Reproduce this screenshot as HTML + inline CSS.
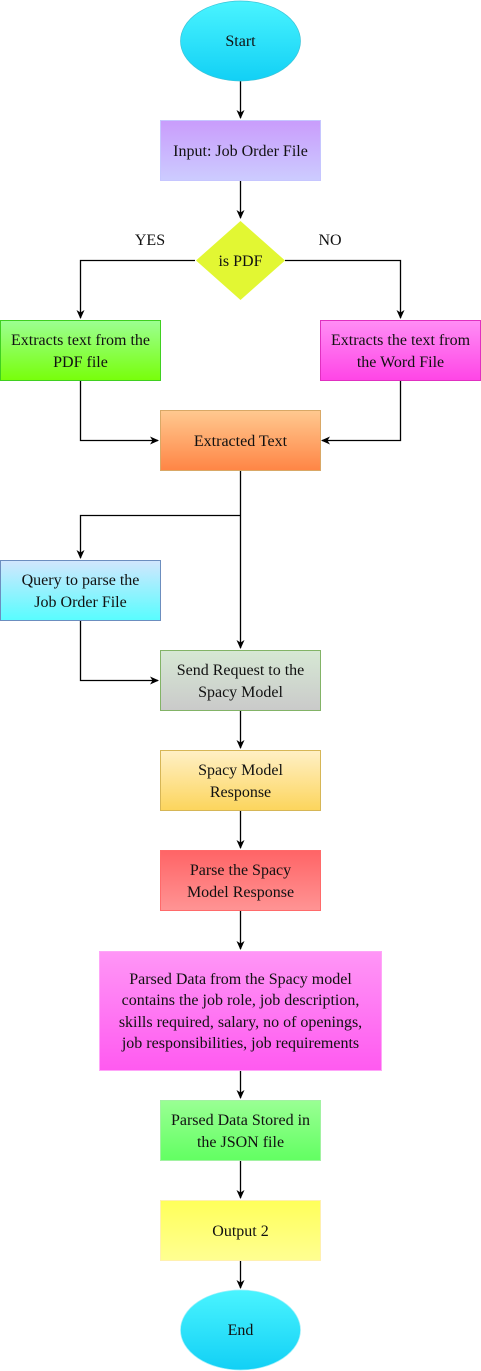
<!DOCTYPE html>
<html><head><meta charset="utf-8"><style>
html,body{margin:0;padding:0;background:#fff;}
svg{display:block;}
svg text{font-family:"Liberation Serif","Times New Roman",serif !important;font-size:16px;fill:#111;text-anchor:middle;}
</style></head><body>
<svg width="481" height="1371" viewBox="0 0 481 1371" xmlns="http://www.w3.org/2000/svg" font-family="Liberation Serif, serif" font-size="16">
<defs>
<linearGradient id="cyan" x1="0" y1="0" x2="0" y2="1"><stop offset="0" stop-color="#4af4ff"/><stop offset="1" stop-color="#12d0f5"/></linearGradient>
<linearGradient id="purp" x1="0" y1="0" x2="0" y2="1"><stop offset="0" stop-color="#c99cfc"/><stop offset="1" stop-color="#ccccff"/></linearGradient>
<linearGradient id="green" x1="0" y1="0" x2="0" y2="1"><stop offset="0" stop-color="#9cff92"/><stop offset="1" stop-color="#78ff0a"/></linearGradient>
<linearGradient id="mag" x1="0" y1="0" x2="0" y2="1"><stop offset="0" stop-color="#ff8ef5"/><stop offset="1" stop-color="#ff45e6"/></linearGradient>
<linearGradient id="orange" x1="0" y1="0" x2="0" y2="1"><stop offset="0" stop-color="#ffc990"/><stop offset="1" stop-color="#ff8545"/></linearGradient>
<linearGradient id="query" x1="0" y1="0" x2="0" y2="1"><stop offset="0" stop-color="#d2e6fd"/><stop offset="1" stop-color="#58fdff"/></linearGradient>
<linearGradient id="grey" x1="0" y1="0" x2="0" y2="1"><stop offset="0" stop-color="#d6e8d4"/><stop offset="1" stop-color="#cacaca"/></linearGradient>
<linearGradient id="yel" x1="0" y1="0" x2="0" y2="1"><stop offset="0" stop-color="#fff0c6"/><stop offset="1" stop-color="#fcd55c"/></linearGradient>
<linearGradient id="red" x1="0" y1="0" x2="0" y2="1"><stop offset="0" stop-color="#ff6466"/><stop offset="1" stop-color="#ff9494"/></linearGradient>
<linearGradient id="mag2" x1="0" y1="0" x2="0" y2="1"><stop offset="0" stop-color="#ff96f6"/><stop offset="1" stop-color="#ff5af0"/></linearGradient>
<linearGradient id="json" x1="0" y1="0" x2="0" y2="1"><stop offset="0" stop-color="#9aff94"/><stop offset="1" stop-color="#62ff62"/></linearGradient>
<linearGradient id="out" x1="0" y1="0" x2="0" y2="1"><stop offset="0" stop-color="#ffff5a"/><stop offset="1" stop-color="#ffff92"/></linearGradient>
<marker id="ar" markerWidth="10" markerHeight="10" refX="8" refY="5" orient="auto" markerUnits="userSpaceOnUse"><path d="M0,1 L9,5 L0,9 L2.5,5 Z" fill="#000"/></marker>
</defs>

<g stroke="#000" stroke-width="1.3" fill="none">
<path d="M240.5 81 V118" marker-end="url(#ar)"/>
<path d="M240.5 180 V218" marker-end="url(#ar)"/>
<path d="M195 260.5 H80.5 V318" marker-end="url(#ar)"/>
<path d="M285 260.5 H400.5 V318" marker-end="url(#ar)"/>
<path d="M80.5 380 V440.5 H158" marker-end="url(#ar)"/>
<path d="M400.5 380 V440.5 H322" marker-end="url(#ar)"/>
<path d="M240.5 470 V648" marker-end="url(#ar)"/>
<path d="M240.5 515.5 H80.5 V558" marker-end="url(#ar)"/>
<path d="M80.5 620 V680.5 H158" marker-end="url(#ar)"/>
<path d="M240.5 710 V748" marker-end="url(#ar)"/>
<path d="M240.5 810 V848" marker-end="url(#ar)"/>
<path d="M240.5 910 V949" marker-end="url(#ar)"/>
<path d="M240.5 1070 V1098" marker-end="url(#ar)"/>
<path d="M240.5 1160 V1198" marker-end="url(#ar)"/>
<path d="M240.5 1260 V1288" marker-end="url(#ar)"/>
</g>

<ellipse cx="240.5" cy="41" rx="60" ry="40" fill="url(#cyan)" stroke="#3bc4d8" stroke-width="0.7"/>
<text x="240.5" y="46">Start</text>

<rect x="160.5" y="120.5" width="160" height="60" fill="url(#purp)" stroke="#c6c6ff"/>
<text x="240.5" y="156">Input: Job Order File</text>

<polygon points="240.5,221 285,260.5 240.5,300 196,260.5" fill="#e2f733"/>
<text x="240.5" y="266">is PDF</text>
<text x="150" y="245">YES</text>
<text x="330" y="245">NO</text>

<rect x="0.5" y="320.5" width="160" height="60" fill="url(#green)" stroke="#3fd020"/>
<text x="80.5" y="345">Extracts text from the</text>
<text x="80.5" y="367">PDF file</text>

<rect x="320.5" y="320.5" width="160" height="60" fill="url(#mag)" stroke="#e030c0"/>
<text x="400.5" y="345">Extracts the text from</text>
<text x="400.5" y="367">the Word File</text>

<rect x="160.5" y="410.5" width="160" height="60" fill="url(#orange)" stroke="#d9a866"/>
<text x="240.5" y="446">Extracted Text</text>

<rect x="0.5" y="560.5" width="160" height="60" fill="url(#query)" stroke="#6c8ebf"/>
<text x="80.5" y="585">Query to parse the</text>
<text x="80.5" y="607">Job Order File</text>

<rect x="160.5" y="650.5" width="160" height="60" fill="url(#grey)" stroke="#82b366"/>
<text x="240.5" y="675">Send Request to the</text>
<text x="240.5" y="697">Spacy Model</text>

<rect x="160.5" y="750.5" width="160" height="60" fill="url(#yel)" stroke="#d6b656"/>
<text x="240.5" y="775">Spacy Model</text>
<text x="240.5" y="797">Response</text>

<rect x="160.5" y="850.5" width="160" height="60" fill="url(#red)" stroke="#ff6a6a"/>
<text x="240.5" y="875">Parse the Spacy</text>
<text x="240.5" y="897">Model Response</text>

<rect x="99.5" y="951.5" width="282" height="119" fill="url(#mag2)" stroke="#ffa6f8"/>
<text x="240.5" y="984">Parsed Data from the Spacy  model</text>
<text x="240.5" y="1005">contains the job role, job description,</text>
<text x="240.5" y="1027">skills required, salary, no of openings,</text>
<text x="240.5" y="1048">job responsibilities, job requirements</text>

<rect x="160.5" y="1100.5" width="160" height="60" fill="url(#json)" stroke="#a2f2a2"/>
<text x="240.5" y="1125">Parsed Data Stored in</text>
<text x="240.5" y="1147">the JSON file</text>

<rect x="160.5" y="1200.5" width="160" height="60" fill="url(#out)" stroke="#fff0b0"/>
<text x="240.5" y="1236">Output 2</text>

<ellipse cx="240.5" cy="1330" rx="60" ry="40" fill="url(#cyan)" stroke="#a0f0fa" stroke-width="0.7"/>
<text x="240.5" y="1335">End</text>
</svg>
</body></html>
